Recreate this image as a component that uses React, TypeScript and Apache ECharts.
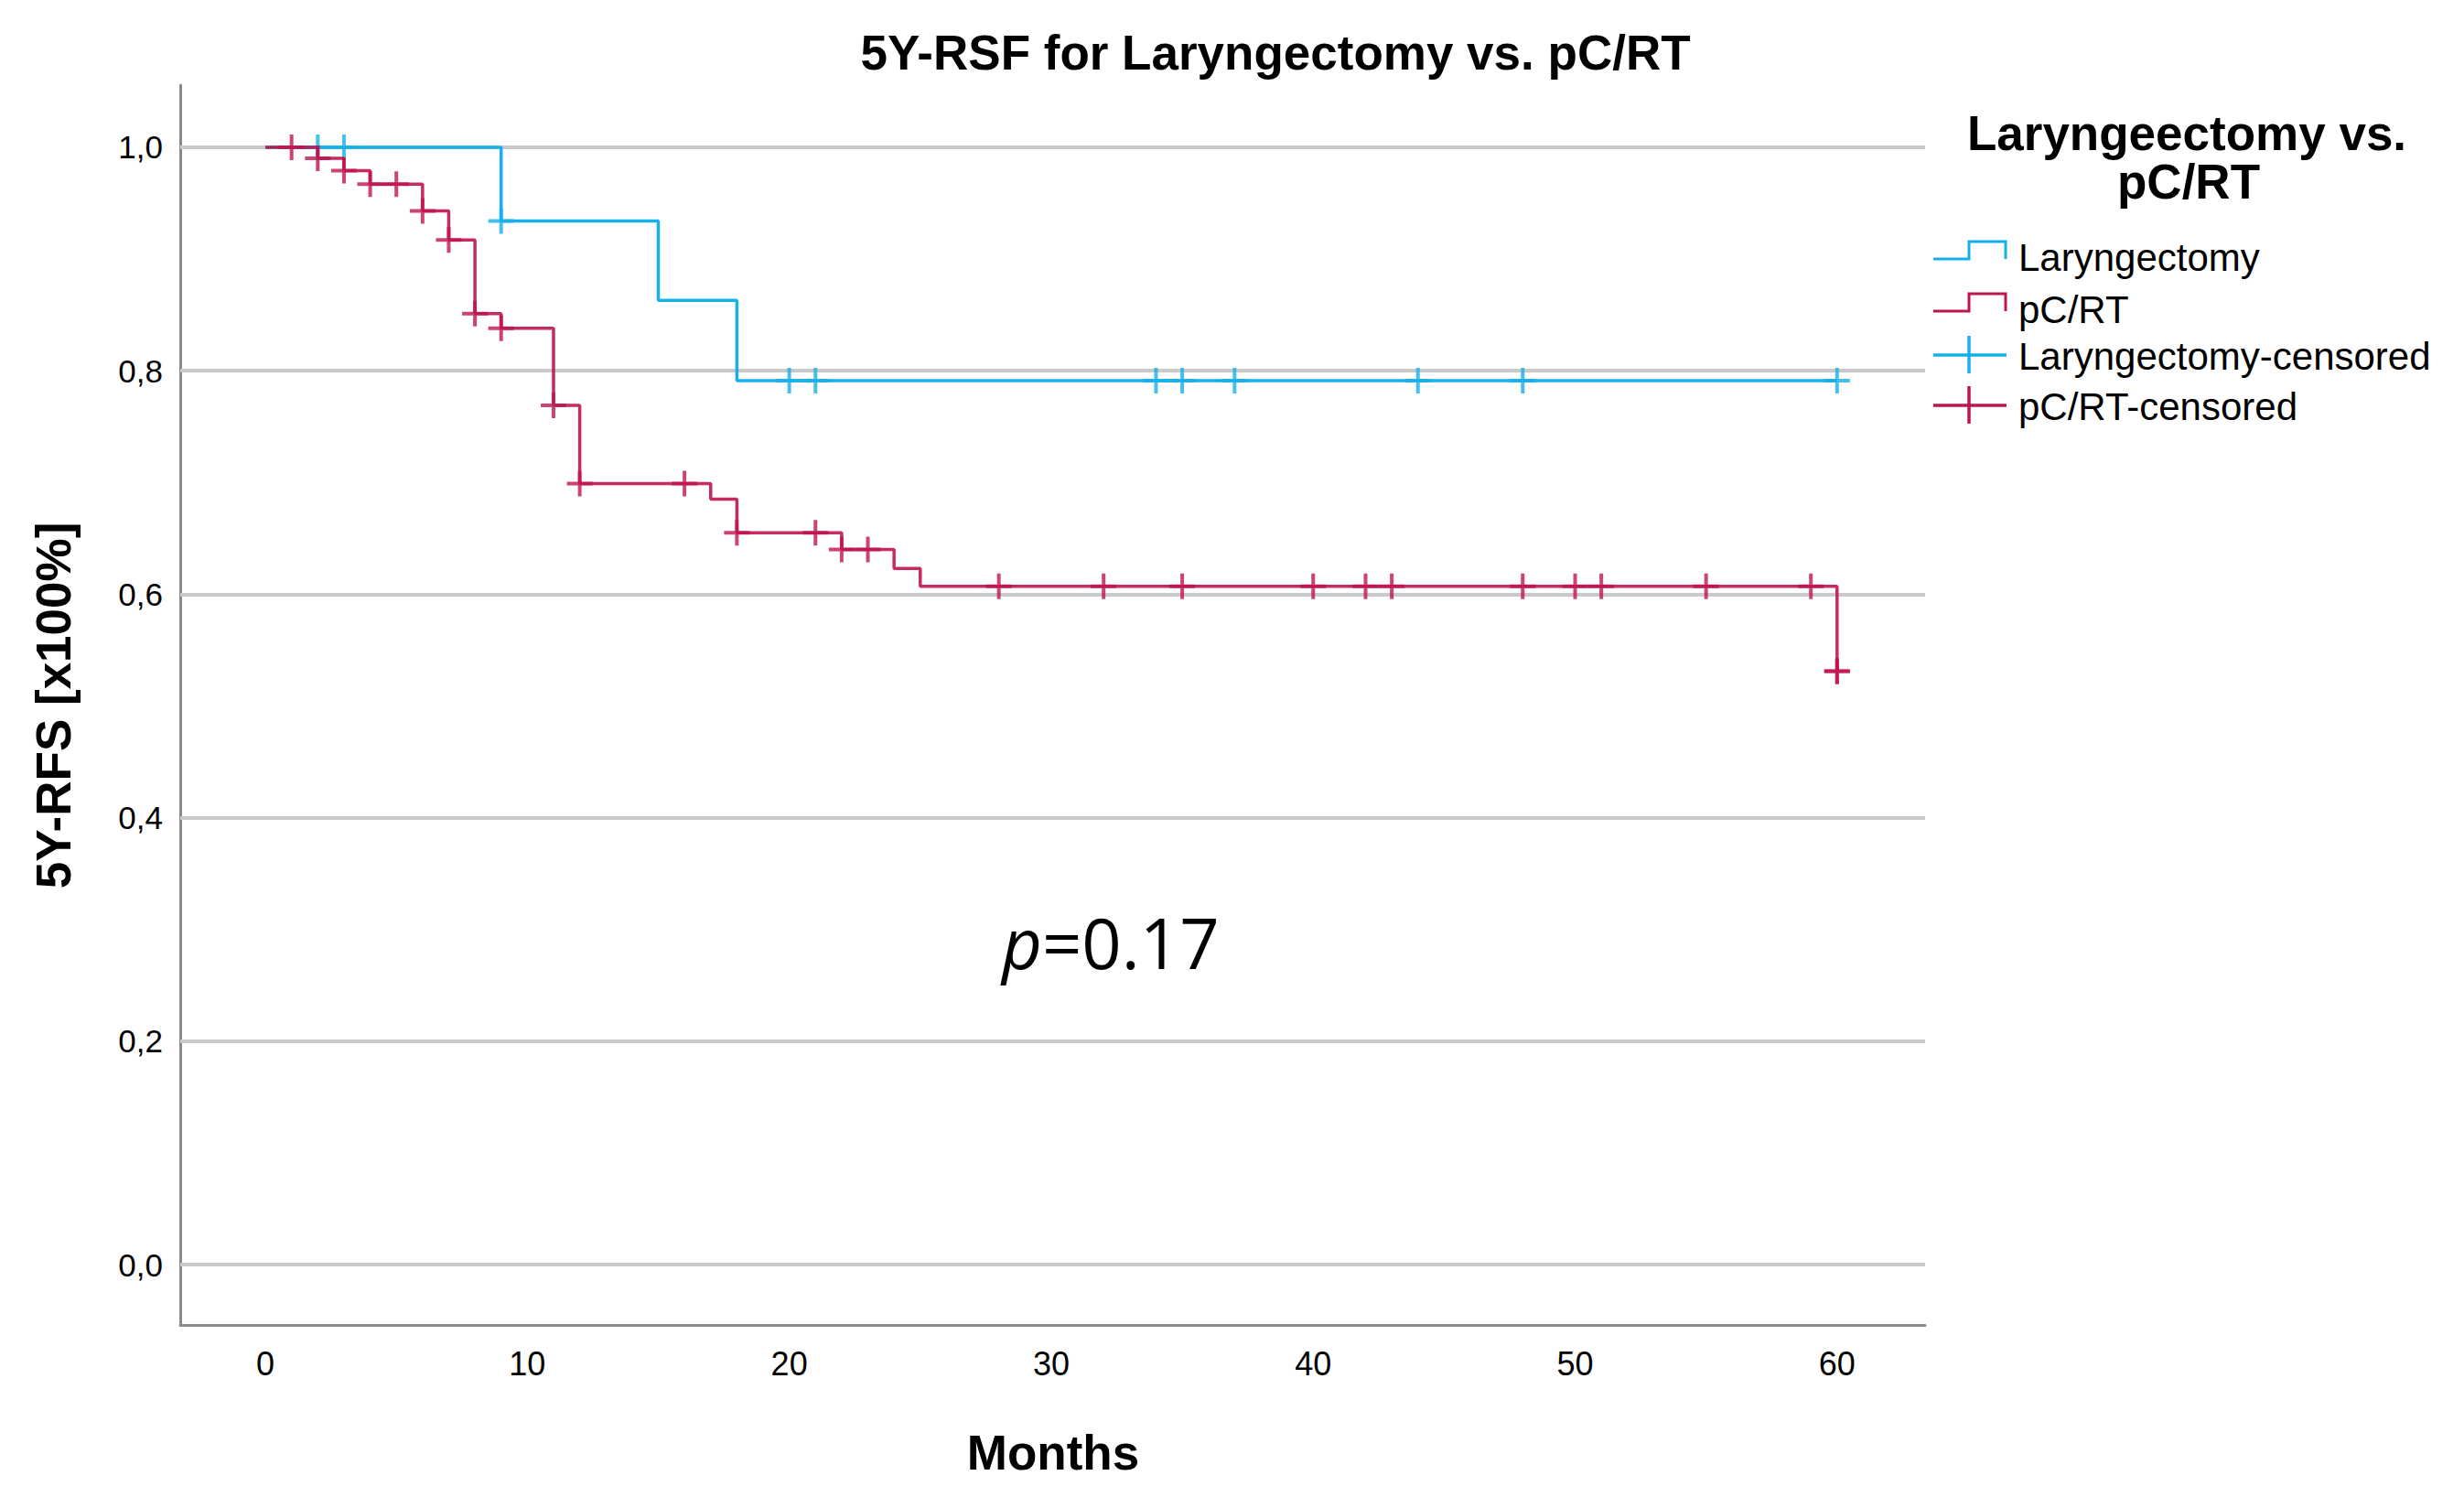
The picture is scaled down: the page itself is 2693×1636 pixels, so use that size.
import React, { useEffect, useRef } from "react";
import * as echarts from "echarts";

// ---- data ----
const laryngTimes = [0, 9, 15, 18, 60];
const laryngSurv = [1.0, 0.934, 0.863, 0.791, 0.791];
const laryngCensorTimes = [2, 3, 9, 20, 21, 34, 35, 37, 44, 48, 60];
const laryngCensorSurv = [1.0, 1.0, 0.934, 0.791, 0.791, 0.791, 0.791, 0.791, 0.791, 0.791, 0.791];

const pcrtTimes = [0, 2, 3, 4, 6, 7, 8, 9, 11, 12, 17, 18, 22, 24, 25, 60];
const pcrtSurv = [1.0, 0.99, 0.979, 0.967, 0.943, 0.917, 0.851, 0.838, 0.769, 0.699, 0.685, 0.655, 0.64, 0.623, 0.607, 0.531];
const pcrtCensorTimes = [1, 2, 3, 4, 5, 6, 7, 8, 9, 11, 12, 16, 18, 21, 22, 23, 28, 32, 35, 40, 42, 43, 48, 50, 51, 55, 59, 60, 60];
const pcrtCensorSurv = [1.0, 0.99, 0.979, 0.967, 0.967, 0.943, 0.917, 0.851, 0.838, 0.769, 0.699, 0.699, 0.655, 0.655, 0.64, 0.64, 0.607, 0.607, 0.607, 0.607, 0.607, 0.607, 0.607, 0.607, 0.607, 0.607, 0.607, 0.531, 0.531];

const xTickValues = [0, 10, 20, 30, 40, 50, 60];
const yTickValues = [0, 0.2, 0.4, 0.6, 0.8, 1.0];

const legendItems = ["Laryngectomy", "pC/RT", "Laryngectomy-censored", "pC/RT-censored"];
const titleText = "5Y-RSF for Laryngectomy vs. pC/RT";
const legendTitle1 = "Laryngeectomy vs.";
const legendTitle2 = "pC/RT";
const xName = "Months";
const yName = "5Y-RFS [x100%]";

const CYAN = "#17b0ea";
const RED = "#c0144f";
const FONT = "'Liberation Sans', Arial, sans-serif";
const PLUS = "path://M12,0H16V12H28V16H16V28H12V16H0V12H12Z";

function pairs(a: number[], b: number[]) {
  return a.map((t, i) => [t, b[i]]);
}

export default function App() {
  const ref = useRef<HTMLDivElement>(null);
  useEffect(() => {
    document.body.style.margin = "0";
    const chart = echarts.init(ref.current!, null, { renderer: "svg" });

    const legendX0 = 2113;
    const legendTextX = 2206;
    const rowY = [283, 340, 388, 443];
    const legendGraphics: any[] = [];
    legendItems.forEach((name, i) => {
      const color = i % 2 === 0 ? CYAN : RED;
      const y = rowY[i];
      if (i < 2) {
        legendGraphics.push({
          type: "polyline",
          shape: { points: [[legendX0, y], [2152, y], [2152, y - 19], [2192, y - 19], [2192, y]] },
          style: { stroke: color, lineWidth: 3, fill: null },
        });
      } else {
        legendGraphics.push({
          type: "line",
          shape: { x1: legendX0, y1: y, x2: 2193, y2: y },
          style: { stroke: color, lineWidth: 3.5 },
        });
        legendGraphics.push({
          type: "line",
          shape: { x1: 2152, y1: y - 21, x2: 2152, y2: y + 20 },
          style: { stroke: color, lineWidth: 3.5 },
        });
      }
      legendGraphics.push({
        type: "text",
        x: legendTextX,
        y: i < 2 ? y - 2 : y + 1,
        style: {
          text: name,
          fontSize: 42,
          fontFamily: FONT,
          fill: "#000",
          align: "left",
          verticalAlign: "middle",
          textAlign: "left",
          textVerticalAlign: "middle",
        },
      });
    });

    const centerText = (text: string, x: number, y: number, size: number, bold: boolean, rotation = 0) => ({
      type: "text",
      x,
      y,
      rotation,
      style: {
        text,
        fontSize: size,
        fontWeight: bold ? "bold" : "normal",
        fontFamily: FONT,
        fill: "#000",
        align: "center",
        verticalAlign: "middle",
        textAlign: "center",
        textVerticalAlign: "middle",
      },
    });

    chart.setOption({
      animation: false,
      backgroundColor: "#fff",
      title: {
        text: titleText,
        left: 1389,
        top: 26,
        textAlign: "center",
        padding: 5,
        textStyle: { fontSize: 53, fontWeight: "bold", fontFamily: FONT, color: "#000", lineHeight: 53 },
      },
      grid: { left: 197, right: 589, top: 93, bottom: 188, containLabel: false },
      xAxis: {
        type: "value",
        min: -3.25,
        max: 63.36,
        axisLine: { show: true, onZero: false, lineStyle: { color: "#8a8a8a", width: 3 } },
        axisTick: { show: false },
        splitLine: { show: false },
        axisLabel: {
          customValues: xTickValues,
          fontSize: 36,
          fontFamily: FONT,
          color: "#000",
          margin: 24,
        },
      },
      yAxis: {
        type: "value",
        min: -0.054,
        max: 1.0556,
        axisLine: { show: true, onZero: false, lineStyle: { color: "#8a8a8a", width: 3 } },
        axisTick: { show: false },
        splitLine: { show: false },
        axisLabel: {
          customValues: yTickValues,
          fontSize: 35,
          fontFamily: FONT,
          color: "#000",
          margin: 19,
          padding: [12, 0, 0, 0],
          formatter: (v: number) => v.toFixed(1).replace(".", ","),
        },
      },
      series: [
        {
          type: "line",
          data: [],
          z: 1,
          silent: true,
          markLine: {
            z: 1,
            silent: true,
            symbol: ["none", "none"],
            label: { show: false },
            lineStyle: { color: "#c9c9c9", width: 4, type: "solid" },
            data: yTickValues.map((v) => ({ yAxis: v })),
          },
        },
        {
          name: legendItems[0],
          type: "line",
          step: "end",
          z: 10,
          showSymbol: false,
          data: pairs(laryngTimes, laryngSurv),
          lineStyle: { color: CYAN, width: 3.5 },
          itemStyle: { color: CYAN },
        },
        {
          name: legendItems[2],
          type: "scatter",
          z: 11,
          symbol: PLUS,
          symbolSize: 28,
          data: pairs(laryngCensorTimes, laryngCensorSurv),
          itemStyle: { color: CYAN },
        },
        {
          name: legendItems[1],
          type: "line",
          step: "end",
          z: 12,
          showSymbol: false,
          data: pairs(pcrtTimes, pcrtSurv),
          lineStyle: { color: RED, width: 3.5, opacity: 0.9 },
          itemStyle: { color: RED },
        },
        {
          name: legendItems[3],
          type: "scatter",
          z: 13,
          symbol: PLUS,
          symbolSize: 28,
          data: pairs(pcrtCensorTimes, pcrtCensorSurv),
          itemStyle: { color: RED },
        },
      ],
      graphic: [
        centerText(legendTitle1, 2390, 145, 53, true),
        centerText(legendTitle2, 2392, 198, 53, true),
        centerText(xName, 1151, 1587, 53, true),
        centerText(yName, 58, 771, 53, true, Math.PI / 2),
        ...legendGraphics,
        {
          type: "text",
          x: 1095,
          y: 1029,
          style: {
            text: "{i|p}{n|=0.17}",
            fill: "#000",
            align: "left",
            verticalAlign: "middle",
            textAlign: "left",
            textVerticalAlign: "middle",
            rich: {
              i: { fontStyle: "italic", fontFamily: "'Open Sans', sans-serif", fontSize: 76, fill: "#000" },
              n: { fontFamily: "'Open Sans', sans-serif", fontSize: 76, fill: "#000" },
            },
          },
        },
      ],
    });
    return () => chart.dispose();
  }, []);
  return <div ref={ref} style={{ width: 2693, height: 1636 }} />;
}
